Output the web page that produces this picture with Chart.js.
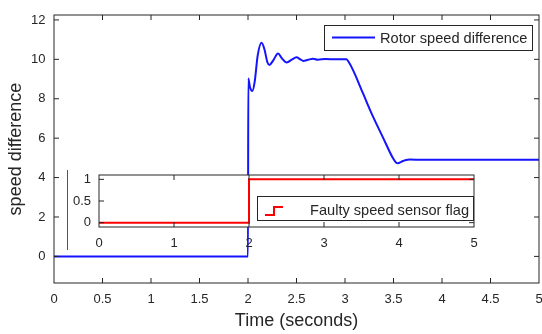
<!DOCTYPE html>
<html><head><meta charset="utf-8">
<script src="https://cdn.jsdelivr.net/npm/chart.js@4"></script>
<style>
html,body{margin:0;padding:0;background:#fff;}
#wrap{position:relative;width:542px;height:334px;overflow:hidden;}
#main{position:absolute;left:0;top:0;}
#inset{position:absolute;left:0;top:160px;}
</style></head><body>
<div id="wrap"><canvas id="main" width="542" height="334"></canvas><canvas id="inset" width="542" height="100"></canvas></div>
<script>
// ---- data ----
const timeS     = [0, 2.0, 2.003, 2.02, 2.045, 2.07, 2.1, 2.14, 2.17, 2.2, 2.22, 2.26, 2.31, 2.35, 2.40, 2.45, 2.50, 2.54, 2.57, 2.62, 2.67, 2.72, 2.8, 2.9, 3.015, 3.04, 3.083, 3.186, 3.289, 3.392, 3.495, 3.525, 3.546, 3.58, 3.62, 3.667, 3.8, 4.2, 4.6, 5.0];
const speedDiff = [0, 0, 9.03, 8.6, 8.39, 8.9, 10.2, 10.84, 10.5, 9.85, 9.71, 9.95, 10.3, 10.05, 9.84, 9.98, 10.1, 10.0, 9.92, 9.98, 10.03, 9.98, 10.02, 10.0, 10.0, 9.85, 9.45, 8.27, 7.09, 6.03, 4.98, 4.77, 4.73, 4.8, 4.88, 4.92, 4.9, 4.9, 4.9, 4.9];
const flagTime  = [0, 2, 2, 5];
const flagValue = [0, 0, 1, 1];

const xTicks = [0, 0.5, 1, 1.5, 2, 2.5, 3, 3.5, 4, 4.5, 5];
const xTickLabels = ['0', '0.5', '1', '1.5', '2', '2.5', '3', '3.5', '4', '4.5', '5'];
const yTicks = [0, 2, 4, 6, 8, 10, 12];
const yTickLabels = ['0', '2', '4', '6', '8', '10', '12'];
const insetXTicks = [0, 1, 2, 3, 4, 5];
const insetXTickLabels = ['0', '1', '2', '3', '4', '5'];
const insetYTicks = [0, 0.5, 1];
const insetYTickLabels = ['0', '0.5', '1'];

const seriesName = 'Rotor speed difference';
const flagName = 'Faulty speed sensor flag';
const xTitle = 'Time (seconds)';
const yTitle = 'speed difference';

// ---- styling ----
Chart.defaults.font.family = "'Liberation Sans', Arial, Helvetica, sans-serif";
Chart.defaults.color = '#262626';
const AXIS = '#262626';

function toPts(xs, ys) { return xs.map((x, i) => ({x, y: ys[i]})); }
function noPadX(s, h) { s.height = h; s.paddingLeft = 0; s.paddingRight = 0; }
function noPadY(s, w) { s.width = w; s.paddingTop = 0; s.paddingBottom = 0; }

const framePlugin = {
  id: 'frame',
  afterDatasetsDraw(chart) {
    const {ctx, chartArea: a, scales: {x, y}} = chart;
    ctx.save();
    ctx.strokeStyle = AXIS; ctx.lineWidth = 1;
    ctx.strokeRect(a.left, a.top, a.right - a.left, a.bottom - a.top);
    const L = 5;
    ctx.beginPath();
    x.ticks.forEach(t => {
      const px = x.getPixelForValue(t.value);
      if (px <= a.left + 1 || px >= a.right - 1) return;
      ctx.moveTo(px, a.bottom); ctx.lineTo(px, a.bottom - L);
      ctx.moveTo(px, a.top); ctx.lineTo(px, a.top + L);
    });
    y.ticks.forEach(t => {
      const py = y.getPixelForValue(t.value);
      if (py <= a.top + 1 || py >= a.bottom - 1) return;
      ctx.moveTo(a.left, py); ctx.lineTo(a.left + L, py);
      ctx.moveTo(a.right, py); ctx.lineTo(a.right - L, py);
    });
    ctx.stroke();
    ctx.restore();
  }
};

const mainLegend = {
  id: 'mainLegend',
  afterDraw(chart) {
    const {ctx, chartArea: a} = chart;
    const ds = chart.data.datasets[0];
    const bx = a.right - 215, by = a.top + 10, bw = 208, bh = 25;
    ctx.save();
    ctx.fillStyle = '#fff';
    ctx.fillRect(bx, by, bw, bh);
    ctx.strokeStyle = AXIS; ctx.lineWidth = 1;
    ctx.strokeRect(bx + 0.5, by + 0.5, bw, bh);
    ctx.strokeStyle = ds.borderColor; ctx.lineWidth = 2;
    ctx.beginPath(); ctx.moveTo(bx + 8, by + 12.5); ctx.lineTo(bx + 51, by + 12.5); ctx.stroke();
    ctx.fillStyle = '#262626';
    ctx.font = "14.6px 'Liberation Sans', Arial, sans-serif";
    ctx.textBaseline = 'middle'; ctx.textAlign = 'left';
    ctx.fillText(ds.label, bx + 56, by + 14);
    ctx.restore();
  }
};

new Chart(document.getElementById('main'), {
  type: 'line',
  data: { datasets: [{
    label: seriesName,
    data: toPts(timeS, speedDiff),
    borderColor: 'rgb(20,20,255)', borderWidth: 2,
    pointRadius: 0, cubicInterpolationMode: 'monotone', fill: false
  }]},
  options: {
    responsive: false, animation: false, devicePixelRatio: 1,
    layout: { padding: {left: 0, top: 15, right: 3, bottom: 0} },
    plugins: { legend: {display: false}, tooltip: {enabled: false} },
    scales: {
      x: {
        type: 'linear', min: 0, max: 5,
        afterBuildTicks: s => { s.ticks = xTicks.map(v => ({value: v})); },
        afterFit: s => noPadX(s, 51),
        grid: {display: false, drawTicks: false},
        border: {display: false},
        ticks: {padding: 9, maxRotation: 0, autoSkip: false, font: {size: 13},
                callback: (v, i) => xTickLabels[i]},
        title: {display: true, text: xTitle, font: {size: 18}, padding: {top: 0, bottom: 2}, color: '#262626'}
      },
      y: {
        type: 'linear', min: -1.35, max: 12.25,
        afterBuildTicks: s => { s.ticks = yTicks.map(v => ({value: v})); },
        afterFit: s => noPadY(s, 54),
        grid: {display: false, drawTicks: false},
        border: {display: false},
        ticks: {padding: 8.5, autoSkip: false, font: {size: 13},
                callback: (v, i) => yTickLabels[i]},
        title: {display: true, text: yTitle, font: {size: 18}, padding: {top: 5.5, bottom: 0}, color: '#262626'}
      }
    }
  },
  plugins: [framePlugin, mainLegend]
});

const insetBg = {
  id: 'insetBg',
  beforeDatasetsDraw(chart) {
    const {ctx, chartArea: a} = chart;
    ctx.save();
    ctx.fillStyle = '#fff';
    ctx.fillRect(a.left, a.top, a.right - a.left, a.bottom - a.top);
    // thin stray vertical line left of the inset axis (as in the reference)
    ctx.strokeStyle = '#555'; ctx.lineWidth = 1;
    ctx.beginPath(); ctx.moveTo(a.left - 31.5, a.top - 5); ctx.lineTo(a.left - 31.5, a.bottom + 23); ctx.stroke();
    ctx.restore();
  }
};

const insetLegend = {
  id: 'insetLegend',
  afterDraw(chart) {
    const {ctx, chartArea: a} = chart;
    const ds = chart.data.datasets[0];
    const bx = a.right - 217, by = a.top + 21, bw = 216, bh = 24;
    ctx.save();
    ctx.fillStyle = '#fff';
    ctx.fillRect(bx, by, bw, bh);
    ctx.strokeStyle = AXIS; ctx.lineWidth = 1;
    ctx.strokeRect(bx + 0.5, by + 0.5, bw, bh);
    ctx.strokeStyle = ds.borderColor; ctx.lineWidth = 2;
    ctx.beginPath();
    ctx.moveTo(bx + 8, by + 19); ctx.lineTo(bx + 17, by + 19);
    ctx.lineTo(bx + 17, by + 11); ctx.lineTo(bx + 26, by + 11);
    ctx.stroke();
    ctx.fillStyle = '#262626';
    ctx.font = "14.6px 'Liberation Sans', Arial, sans-serif";
    ctx.textBaseline = 'middle'; ctx.textAlign = 'right';
    ctx.fillText(ds.label, bx + bw - 4, by + 14.5);
    ctx.restore();
  }
};

new Chart(document.getElementById('inset'), {
  type: 'line',
  data: { datasets: [{
    label: flagName,
    data: toPts(flagTime, flagValue),
    borderColor: 'rgb(255,0,0)', borderWidth: 2,
    pointRadius: 0, tension: 0, fill: false
  }]},
  options: {
    responsive: false, animation: false, devicePixelRatio: 1,
    layout: { padding: {left: 0, top: 15, right: 68, bottom: 0} },
    plugins: { legend: {display: false}, tooltip: {enabled: false} },
    scales: {
      x: {
        type: 'linear', min: 0, max: 5,
        afterBuildTicks: s => { s.ticks = insetXTicks.map(v => ({value: v})); },
        afterFit: s => noPadX(s, 33),
        grid: {display: false, drawTicks: false},
        border: {display: false},
        ticks: {padding: 9, maxRotation: 0, autoSkip: false, font: {size: 13},
                callback: (v, i) => insetXTickLabels[i]}
      },
      y: {
        type: 'linear', min: -0.1, max: 1.1,
        afterBuildTicks: s => { s.ticks = insetYTicks.map(v => ({value: v})); },
        afterFit: s => noPadY(s, 99),
        grid: {display: false, drawTicks: false},
        border: {display: false},
        ticks: {padding: 8, autoSkip: false, font: {size: 13},
                callback: (v, i) => insetYTickLabels[i]}
      }
    }
  },
  plugins: [insetBg, framePlugin, insetLegend]
});
</script>
</body></html>
